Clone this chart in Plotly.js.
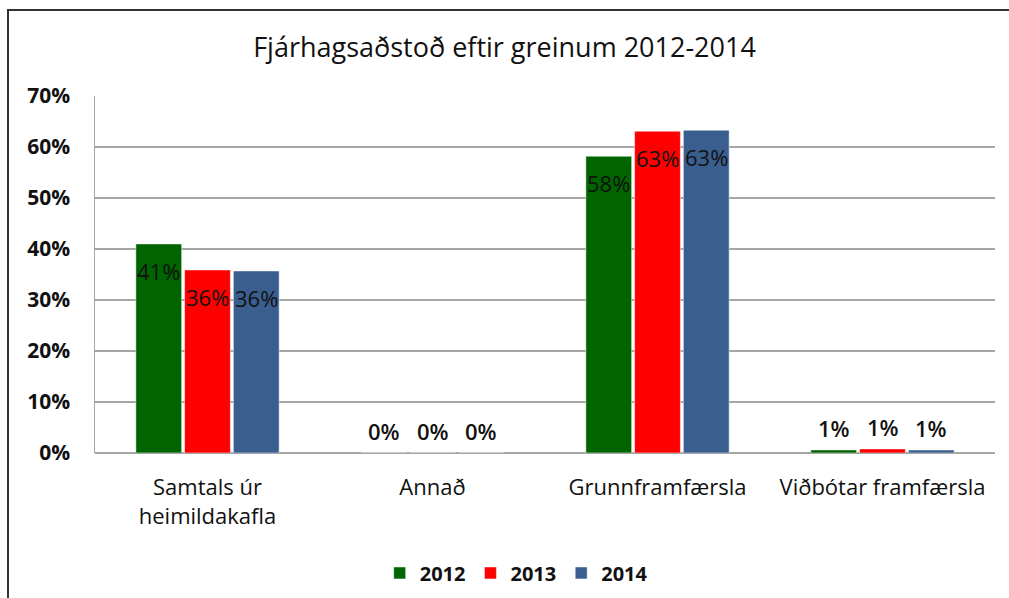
<!DOCTYPE html>
<html>
<head>
<meta charset="utf-8">
<script src="https://cdn.plot.ly/plotly-3.0.1.min.js"></script>
<style>
  html, body { margin: 0; padding: 0; background: #fff; }
  #wrap { position: relative; width: 1009px; height: 598px; overflow: hidden; }
  #frame { position: absolute; left: 7px; top: 9px; width: 1100px; height: 700px;
           border-top: 2px solid #333; border-left: 2px solid #333; pointer-events: none; }
  #chart { position: absolute; left: 0; top: 0; width: 1009px; height: 598px; }
</style>
</head>
<body>
<div id="wrap">
  <div id="chart"></div>
  <div id="frame"></div>
</div>
<script>
const categories = ['Samtals úr<br>heimildakafla', 'Annað', 'Grunnframfærsla', 'Viðbótar framfærsla'];
const years = ['2012', '2013', '2014'];
const values2012 = [41.0, 0, 58.2, 0.6];
const values2013 = [35.9, 0, 63.1, 0.8];
const values2014 = [35.7, 0, 63.3, 0.6];
const labels2012 = ['41%', '0%', '58%', '1%'];
const labels2013 = ['36%', '0%', '63%', '1%'];
const labels2014 = ['36%', '0%', '63%', '1%'];
const colors = ['#006400', '#FF0000', '#3A5F8F'];

const seriesValues = [values2012, values2013, values2014];
const seriesLabels = [labels2012, labels2013, labels2014];

const FONT = '"Open Sans", "Noto Sans", sans-serif';
const bargap = 0.35;
const bargroupgap = 0.06;

const traces = years.map((y, j) => ({
  type: 'bar',
  name: y,
  x: categories,
  y: seriesValues[j],
  marker: { color: colors[j], line: { color: 'rgba(255,255,255,0.5)', width: 1 } },
  hoverinfo: 'x+y+name'
}));

const slot = (1 - bargap) / years.length;
const annotations = [];
seriesValues.forEach((vals, j) => {
  vals.forEach((v, i) => {
    annotations.push({
      x: i + (j - (years.length - 1) / 2) * slot,
      y: v,
      xref: 'x', yref: 'y',
      text: seriesLabels[j][i],
      showarrow: false,
      yshift: v > 5 ? -27 : 22,
      font: { family: FONT, size: 22, color: '#111', weight: v > 5 ? 'normal' : 600 }
    });
  });
});

const layout = {
  width: 1009, height: 598,
  margin: { l: 95, r: 14, t: 96, b: 145, autoexpand: false },
  paper_bgcolor: '#fff', plot_bgcolor: '#fff',
  title: { text: 'Fjárhagsaðstoð eftir greinum 2012-2014', x: 0.5, xanchor: 'center', y: 0.92, yanchor: 'middle',
           font: { family: FONT, size: 27, color: '#111' } },
  barmode: 'group', bargap: bargap, bargroupgap: bargroupgap,
  xaxis: { type: 'category', automargin: false, showgrid: false, showline: false, zeroline: false, ticks: '',
           tickfont: { family: FONT, size: 22, color: '#111' }, ticklabelstandoff: 19 },
  yaxis: { range: [0, 70], dtick: 10, ticksuffix: '%', automargin: false, showgrid: true, gridcolor: '#a6a6a6', gridwidth: 1.5,
           showline: true, linecolor: '#a6a6a6', linewidth: 1.5, zeroline: true, zerolinecolor: '#a6a6a6', zerolinewidth: 1.5,
           ticks: '', ticklabelstandoff: 19,
           tickfont: { family: FONT, size: 21, color: '#111', weight: 'bold' } },
  legend: { orientation: 'h', x: 0.468, xanchor: 'center', y: -0.336, yanchor: 'middle',
            font: { family: FONT, size: 20, color: '#111', weight: 'bold' }, itemwidth: 30, traceorder: 'normal' },
  annotations: annotations,
  showlegend: true
};

Plotly.newPlot('chart', traces, layout, { displayModeBar: false, staticPlot: true });
</script>
</body>
</html>
